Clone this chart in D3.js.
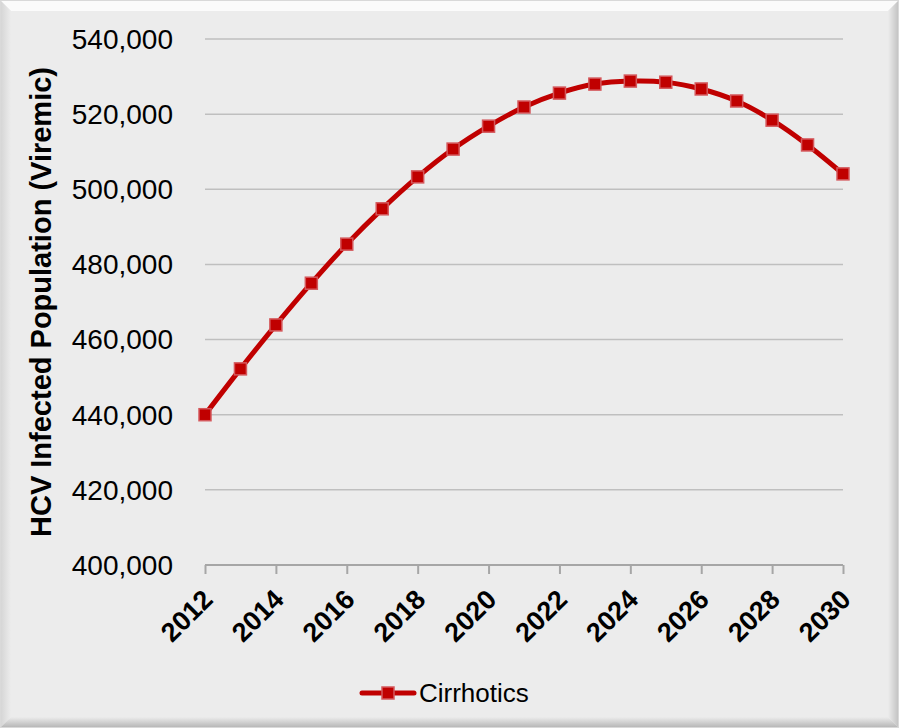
<!DOCTYPE html>
<html>
  <head>
    <title>HCV Infected Population</title>
    <meta charset="utf-8">
    <style>
      body { margin: 0; background: #ffffff; }
      svg text { font-family: "Liberation Sans", Arial, sans-serif; fill: #000; }
      .grid line { stroke: #bfbfbf; stroke-width: 1.5; }
      .x.axis path, .x.axis line { stroke: #a6a6a6; stroke-width: 2; fill: none; }
    </style>
  </head>
  <body>
  <svg class="chart"></svg>
  <script src="https://d3js.org/d3.v7.min.js"></script>
  <script>
    // chart data
    var years = [2012, 2013, 2014, 2015, 2016, 2017, 2018, 2019, 2020, 2021,
                 2022, 2023, 2024, 2025, 2026, 2027, 2028, 2029, 2030];
    var cirrhotics = [440000, 452200, 463900, 475000, 485400, 494800, 503300, 510700, 516800, 521900,
                      525600, 528000, 528800, 528500, 526700, 523500, 518400, 511800, 504100];
    var yTicks = [400000, 420000, 440000, 460000, 480000, 500000, 520000, 540000];
    var xTicks = [2012, 2014, 2016, 2018, 2020, 2022, 2024, 2026, 2028, 2030];
    var seriesName = "Cirrhotics";
    var yTitle = "HCV Infected Population (Viremic)";

    var W = 899, H = 728;
    var margin = {top: 39, right: 56, bottom: 163, left: 205};
    var width = W - margin.left - margin.right;
    var height = H - margin.top - margin.bottom;

    var svg = d3.select("svg").attr("width", W).attr("height", H);

    // frame with bevel look
    var defs = svg.append("defs");
    var gR = defs.append("linearGradient").attr("id", "shR");
    gR.append("stop").attr("offset", "0%").attr("stop-color", "#ececec");
    gR.append("stop").attr("offset", "100%").attr("stop-color", "#c4c4c4");
    var gB = defs.append("linearGradient").attr("id", "shB").attr("x1", 0).attr("x2", 0).attr("y1", 0).attr("y2", 1);
    gB.append("stop").attr("offset", "0%").attr("stop-color", "#ececec");
    gB.append("stop").attr("offset", "100%").attr("stop-color", "#b8b8b8");
    var gL = defs.append("linearGradient").attr("id", "shL");
    gL.append("stop").attr("offset", "0%").attr("stop-color", "#d6d6d6");
    gL.append("stop").attr("offset", "100%").attr("stop-color", "#ececec");

    svg.append("rect").attr("x", 0).attr("y", 0).attr("width", W).attr("height", H).attr("fill", "#d9d9d9");
    svg.append("rect").attr("x", 1).attr("y", 1).attr("width", W - 2).attr("height", H - 2).attr("fill", "#ececec");
    svg.append("polygon").attr("points", "1,1 " + (W - 1) + ",1 " + (W - 11) + ",11 11,11").attr("fill", "#fbfbfb");
    svg.append("polygon").attr("points", "1,1 11,11 11," + (H - 11) + " 1," + (H - 1)).attr("fill", "url(#shL)");
    svg.append("polygon").attr("points", (W - 1) + ",1 " + (W - 1) + "," + (H - 1) + " " + (W - 11) + "," + (H - 11) + " " + (W - 11) + ",11").attr("fill", "url(#shR)");
    svg.append("polygon").attr("points", "1," + (H - 1) + " " + (W - 1) + "," + (H - 1) + " " + (W - 11) + "," + (H - 11) + " 11," + (H - 11)).attr("fill", "url(#shB)");

    var x = d3.scaleLinear().domain([2012, 2030]).range([0, width]);
    var y = d3.scaleLinear().domain([400000, 540000]).range([height, 0]);

    var g = svg.append("g").attr("transform", "translate(" + margin.left + "," + margin.top + ")");

    // gridlines
    g.append("g").attr("class", "grid")
      .selectAll("line").data(yTicks.slice(1)).enter().append("line")
      .attr("x1", 0).attr("x2", width)
      .attr("y1", function(d) { return y(d); }).attr("y2", function(d) { return y(d); });

    // y tick labels
    var fmt = d3.format(",");
    g.selectAll(".ylab").data(yTicks).enter().append("text")
      .attr("class", "ylab")
      .attr("x", -32).attr("y", function(d) { return y(d); })
      .attr("dy", "0.35em").attr("text-anchor", "end")
      .style("font-size", "28px")
      .text(function(d) { return fmt(d); });

    // x axis
    var xAxis = d3.axisBottom(x).tickValues(xTicks).tickSize(9).tickFormat(d3.format("d"));
    var xg = g.append("g").attr("class", "x axis").attr("transform", "translate(0," + height + ")").call(xAxis);
    xg.select(".domain").attr("d", "M0,0H" + width);
    xg.selectAll("text")
      .style("font-size", "27px").style("font-weight", "bold")
      .attr("text-anchor", "end")
      .attr("dy", null).attr("y", 0).attr("x", 0)
      .attr("transform", "translate(9,36) rotate(-45)");

    // y title
    svg.append("text")
      .attr("transform", "translate(51," + (margin.top + height / 2) + ") rotate(-90)")
      .attr("text-anchor", "middle")
      .style("font-size", "29px").style("font-weight", "bold")
      .text(yTitle);

    // line
    var data = years.map(function(yr, i) { return [yr, cirrhotics[i]]; });
    var line = d3.line()
      .x(function(d) { return x(d[0]); })
      .y(function(d) { return y(d[1]); })
      .curve(d3.curveCatmullRom);

    g.append("path").datum(data)
      .attr("fill", "none").attr("stroke", "#c00000").attr("stroke-width", 5)
      .attr("d", line);

    var ms = 12;
    g.selectAll(".pt").data(data).enter().append("rect")
      .attr("class", "pt")
      .attr("x", function(d) { return x(d[0]) - ms / 2; })
      .attr("y", function(d) { return y(d[1]) - ms / 2; })
      .attr("width", ms).attr("height", ms)
      .attr("fill", "#c00000").attr("stroke", "#d4585c").attr("stroke-width", 1.5);

    // legend
    var lg = svg.append("g").attr("transform", "translate(362,693)");
    lg.append("line").attr("x1", 0).attr("x2", 52).attr("y1", 0).attr("y2", 0)
      .attr("stroke", "#c00000").attr("stroke-width", 5).attr("stroke-linecap", "round");
    lg.append("rect").attr("x", 26 - ms / 2).attr("y", -ms / 2).attr("width", ms).attr("height", ms)
      .attr("fill", "#c00000").attr("stroke", "#d4585c").attr("stroke-width", 1.5);
    lg.append("text").attr("x", 57).attr("y", 0).attr("dy", "0.35em")
      .style("font-size", "26px").text(seriesName);
  </script>
  </body>
</html>
